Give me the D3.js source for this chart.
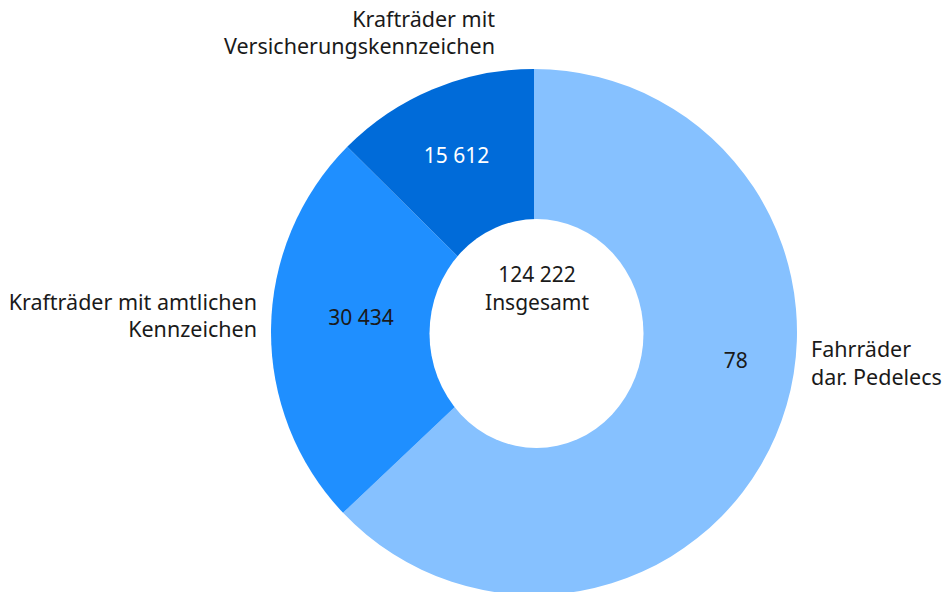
<!DOCTYPE html>
<html>
<head>
<meta charset="utf-8">
<script src="https://cdn.jsdelivr.net/npm/d3@7"></script>
<style>
  html, body { margin: 0; padding: 0; background: #fff; }
  svg text { font-family: "Noto Sans", sans-serif; fill: #1a1a1a; }
</style>
</head>
<body>
<div id="content"></div>
<script>
// datas
const categories = ["Fahrräder", "Krafträder mit amtlichen Kennzeichen", "Krafträder mit Versicherungskennzeichen"];
const values = [78176, 30434, 15612];
const valueLabels = ["78", "30 434", "15 612"];
const totalLabel = ["124 222", "Insgesamt"];
const nameLines = [
  ["Fahrräder", "dar. Pedelecs"],
  ["Krafträder mit amtlichen", "Kennzeichen"],
  ["Krafträder mit", "Versicherungskennzeichen"]
];

// view
const w = 950;
const h = 592;
const cx = 534, cy = 332;
const rOuter = 263;
const colors = ["#86c1ff", "#1f8fff", "#006bd9"];
const textFill = ["#1a1a1a", "#1a1a1a", "#ffffff"];
// small nudges so value labels sit where the original put them
const nudge = [[31, -45], [13, -12], [-6, -5]];

const svg = d3.select("#content")
  .append("svg")
  .attr("width", w)
  .attr("height", h);

const pie = d3.pie().sort(null).value(d => d);
const arcs = pie(values);

const arc = d3.arc().innerRadius(0).outerRadius(rOuter);
const labelArc = d3.arc().innerRadius(186).outerRadius(186);

const g = svg.append("g").attr("transform", `translate(${cx},${cy})`);

g.selectAll("path")
  .data(arcs)
  .enter()
  .append("path")
  .attr("d", arc)
  .attr("fill", (d, i) => colors[i]);

// hole (slightly oval in the original)
g.append("ellipse")
  .attr("cx", 2.5)
  .attr("cy", 1.5)
  .attr("rx", 107)
  .attr("ry", 114.5)
  .attr("fill", "#fff");

// value labels
g.selectAll("text.val")
  .data(arcs)
  .enter()
  .append("text")
  .attr("class", "val")
  .attr("x", (d, i) => labelArc.centroid(d)[0] + nudge[i][0])
  .attr("y", (d, i) => labelArc.centroid(d)[1] + nudge[i][1])
  .attr("dy", "0.35em")
  .attr("text-anchor", "middle")
  .style("font-size", "21px")
  .style("fill", (d, i) => textFill[i])
  .text((d, i) => valueLabels[i]);

// total in the middle
g.append("text")
  .attr("x", 3)
  .attr("y", -50)
  .attr("text-anchor", "middle")
  .style("font-size", "21px")
  .selectAll("tspan")
  .data(totalLabel)
  .enter()
  .append("tspan")
  .attr("x", 3)
  .attr("dy", (d, i) => i ? 28 : 0)
  .text(d => d);

// category names
const namePos = [
  {x: 811, y: 357, anchor: "start", lh: 28},
  {x: 257, y: 310, anchor: "end", lh: 27},
  {x: 495, y: 27, anchor: "end", lh: 27}
];

nameLines.forEach((lines, i) => {
  const p = namePos[i];
  const t = svg.append("text")
    .attr("text-anchor", p.anchor)
    .attr("y", p.y)
    .style("font-size", "21.5px");
  t.selectAll("tspan")
    .data(lines)
    .enter()
    .append("tspan")
    .attr("x", p.x)
    .attr("dy", (d, j) => j ? p.lh : 0)
    .text(d => d);
});
</script>
</body>
</html>
